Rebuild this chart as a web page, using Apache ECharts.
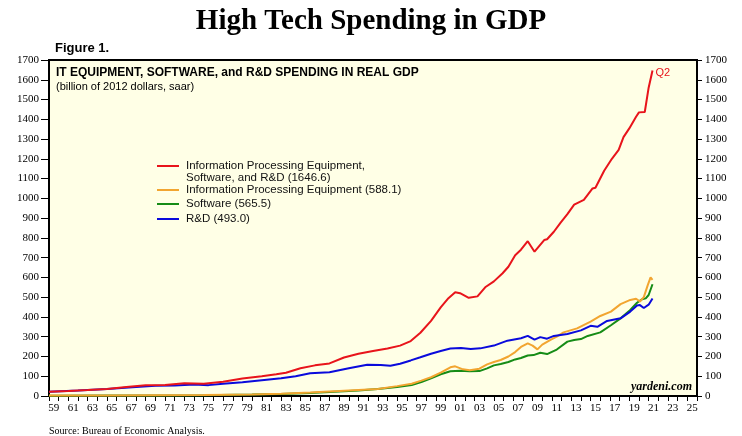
<!DOCTYPE html>
<html>
<head>
<meta charset="utf-8">
<script src="https://cdn.jsdelivr.net/npm/echarts@6/dist/echarts.min.js"></script>
<style>
html,body{margin:0;padding:0;background:#fff;}
#c{width:742px;height:436px;}
</style>
</head>
<body>
<div id="c"></div>
<script>
// Years for the category label axis
const years = [];
for (let y = 1959; y <= 2025; y++) years.push(y);

// Series data: [decimal year, billions of 2012 dollars]
const totalData = [
  [1959,22],[1961,25],[1963,30],[1965,36],[1967,45],[1969,54],[1971,56],[1973,64],[1975,62],
  [1977,72],[1979,88],[1981,100],[1982.5,110],[1983.5,118],[1985,140],[1986.5,155],[1988,165],
  [1989.5,195],[1991,214],[1992.5,228],[1994,240],[1995.3,255],[1996.4,278],[1997.4,320],
  [1998.5,380],[1999.5,448],[2000.3,495],[2001.0,525],[2001.5,520],[2002.4,497],[2003.3,504],
  [2004.1,550],[2005.0,580],[2005.9,621],[2006.5,654],[2007.2,712],[2007.8,740],[2008.5,783],
  [2009.2,730],[2009.7,760],[2010.2,789],[2010.5,793],[2011.2,831],[2011.9,877],[2012.6,920],
  [2013.3,968],[2014.3,992],[2015.2,1050],[2015.5,1054],[2016.4,1140],[2017.2,1200],
  [2017.9,1245],[2018.4,1310],[2019.0,1354],[2019.7,1413],[2020.0,1435],[2020.6,1437],
  [2021.0,1560],[2021.4,1646.6]
];
const equipData = [
  [1959,2],[1965,3],[1970,4],[1975,5],[1980,8],[1983,12],[1986,18],[1989,25],[1991,30],[1993,35],
  [1995,50],[1996.5,62],[1997.5,78],[1998.5,95],[1999.5,118],[2000.5,145],[2001.0,150],
  [2001.8,135],[2002.5,130],[2003.5,138],[2004.3,160],[2005.0,172],[2005.7,182],[2006.5,200],
  [2007.2,222],[2007.8,248],[2008.5,266],[2009.0,255],[2009.5,236],[2010.0,260],[2010.9,285],
  [2011.5,300],[2012.2,322],[2013.6,342],[2015.0,376],[2016.0,405],[2017.1,427],[2018.1,465],
  [2019.1,486],[2019.7,492],[2020.1,478],[2020.5,500],[2020.9,560],[2021.2,600],[2021.4,588.1]
];
const softwareData = [
  [1959,1],[1965,2],[1970,3],[1975,4],[1980,7],[1983,10],[1986,15],[1989,23],[1991,28],[1993,36],
  [1995,45],[1996.5,55],[1997.5,70],[1998.5,90],[1999.5,110],[2000.5,125],[2001.5,128],
  [2002.5,125],[2003.5,126],[2004.3,140],[2005.0,155],[2005.7,162],[2006.5,172],[2007.2,185],
  [2007.8,192],[2008.5,205],[2009.1,207],[2009.8,219],[2010.5,212],[2011.5,235],[2012.6,275],
  [2013.3,283],[2014.0,288],[2014.7,304],[2016.0,322],[2017.1,358],[2018.1,393],[2019.1,435],
  [2019.8,472],[2020.3,489],[2020.7,494],[2021.0,511],[2021.4,565.5]
];
const rdData = [
  [1959,22],[1962,28],[1965,35],[1968,45],[1970,52],[1972,53],[1974,58],[1975.5,55],[1977,62],
  [1979,70],[1981,80],[1983,90],[1984.5,100],[1986,115],[1988,120],[1990,140],[1991.9,158],
  [1993.3,157],[1994.3,153],[1995.3,163],[1996.4,180],[1997.4,196],[1998.5,214],[1999.5,228],
  [2000.5,240],[2001.6,243],[2002.6,238],[2003.6,241],[2005.0,255],[2006.4,280],[2007.8,292],
  [2008.5,304],[2009.2,285],[2009.8,298],[2010.5,290],[2011.2,304],[2012.6,314],[2014.0,332],
  [2015.0,355],[2015.7,350],[2016.7,380],[2018.1,393],[2019.1,427],[2019.8,458],[2020.1,460],
  [2020.5,445],[2021.0,462],[2021.4,493]
];

const seriesNames = [
  'Information Processing Equipment,\nSoftware, and R&D (1646.6)',
  'Information Processing Equipment (588.1)',
  'Software (565.5)',
  'R&D (493.0)'
];
const colors = ['#E8141B', '#F2A530', '#168C16', '#0A0ADC'];

const chart = echarts.init(document.getElementById('c'), null, {renderer: 'canvas'});
const serif = 'Liberation Serif';
const sans = 'Liberation Sans';

const legendRowsY = [166, 190, 204, 219];
const legendGraphics = [];
seriesNames.forEach((n, i) => {
  legendGraphics.push({
    type: 'line', shape: {x1: 157, y1: legendRowsY[i], x2: 179, y2: legendRowsY[i]},
    style: {stroke: colors[i], lineWidth: 2}, z: 10
  });
  legendGraphics.push({
    type: 'text', left: 186, top: legendRowsY[i] - 6,
    style: {text: n, font: '11.5px ' + sans, fill: '#111', lineHeight: 11.5}, z: 10
  });
});

const plainNum = v => String(v);

const option = {
  animation: false,
  backgroundColor: '#ffffff',
  title: [
    {text: 'High Tech Spending in GDP', left: 'center', top: 7, padding: 0,
     textStyle: {fontFamily: serif, fontWeight: 'bold', fontSize: 29, color: '#000'}},
    {text: 'Figure 1.', left: 55, top: 42, padding: 0,
     textStyle: {fontFamily: sans, fontWeight: 'bold', fontSize: 13, color: '#000'}},
    {text: 'IT EQUIPMENT, SOFTWARE, and R&D SPENDING IN REAL GDP', left: 56, top: 67, padding: 0,
     textStyle: {fontFamily: sans, fontWeight: 'bold', fontSize: 12, color: '#000'}},
    {text: '(billion of 2012 dollars, saar)', left: 56, top: 81, padding: 0,
     textStyle: {fontFamily: sans, fontWeight: 'normal', fontSize: 11, color: '#000'}},
    {text: 'yardeni.com', right: 50, top: 381, padding: 0,
     textStyle: {fontFamily: serif, fontWeight: 'bold', fontStyle: 'italic', fontSize: 12, color: '#000'}},
    {text: 'Source: Bureau of Economic Analysis.', left: 49, top: 426, padding: 0,
     textStyle: {fontFamily: serif, fontWeight: 'normal', fontSize: 10, color: '#000'}}
  ],
  graphic: legendGraphics,
  grid: {left: 49, right: 45, top: 60, bottom: 40, show: true,
         backgroundColor: '#FFFFE6', borderColor: '#000', borderWidth: 2},
  xAxis: [
    {type: 'value', min: 1959, max: 2026, interval: 1, position: 'bottom',
     axisLine: {show: true, lineStyle: {color: '#000', width: 2}},
     axisTick: {show: true, inside: false, length: 5, lineStyle: {color: '#000', width: 1}},
     axisLabel: {show: false}, splitLine: {show: false}},
    {type: 'category', data: years, boundaryGap: true, position: 'bottom',
     axisLine: {show: false}, axisTick: {show: false}, splitLine: {show: false},
     axisLabel: {interval: 1, formatter: v => String(v).slice(2), fontFamily: serif,
                 fontSize: 11, color: '#000', margin: 7}}
  ],
  yAxis: [
    {type: 'value', min: 0, max: 1700, interval: 100, position: 'left',
     axisLine: {show: true, lineStyle: {color: '#000', width: 2}},
     axisTick: {show: true, inside: false, length: 8, lineStyle: {color: '#000'}},
     axisLabel: {fontFamily: serif, fontSize: 11, color: '#000', margin: 10, formatter: plainNum},
     splitLine: {show: false}},
    {type: 'value', min: 0, max: 1700, interval: 100, position: 'right',
     axisLine: {show: true, lineStyle: {color: '#000', width: 2}},
     axisTick: {show: true, inside: false, length: 5, lineStyle: {color: '#000'}},
     axisLabel: {fontFamily: serif, fontSize: 11, color: '#000', margin: 8, formatter: plainNum},
     splitLine: {show: false}}
  ],
  series: [
    {name: seriesNames[0], type: 'line', data: totalData, showSymbol: false,
     lineStyle: {color: colors[0], width: 2}, itemStyle: {color: colors[0]}, z: 4,
     endLabel: {show: true, formatter: 'Q2', color: colors[0], fontFamily: sans, fontSize: 11, distance: 3, offset: [0, 2]}},
    {name: seriesNames[1], type: 'line', data: equipData, showSymbol: false,
     lineStyle: {color: colors[1], width: 2}, itemStyle: {color: colors[1]}, z: 3},
    {name: seriesNames[2], type: 'line', data: softwareData, showSymbol: false,
     lineStyle: {color: colors[2], width: 2}, itemStyle: {color: colors[2]}, z: 2},
    {name: seriesNames[3], type: 'line', data: rdData, showSymbol: false,
     lineStyle: {color: colors[3], width: 2}, itemStyle: {color: colors[3]}, z: 3}
  ]
};
chart.setOption(option);
</script>
</body>
</html>
